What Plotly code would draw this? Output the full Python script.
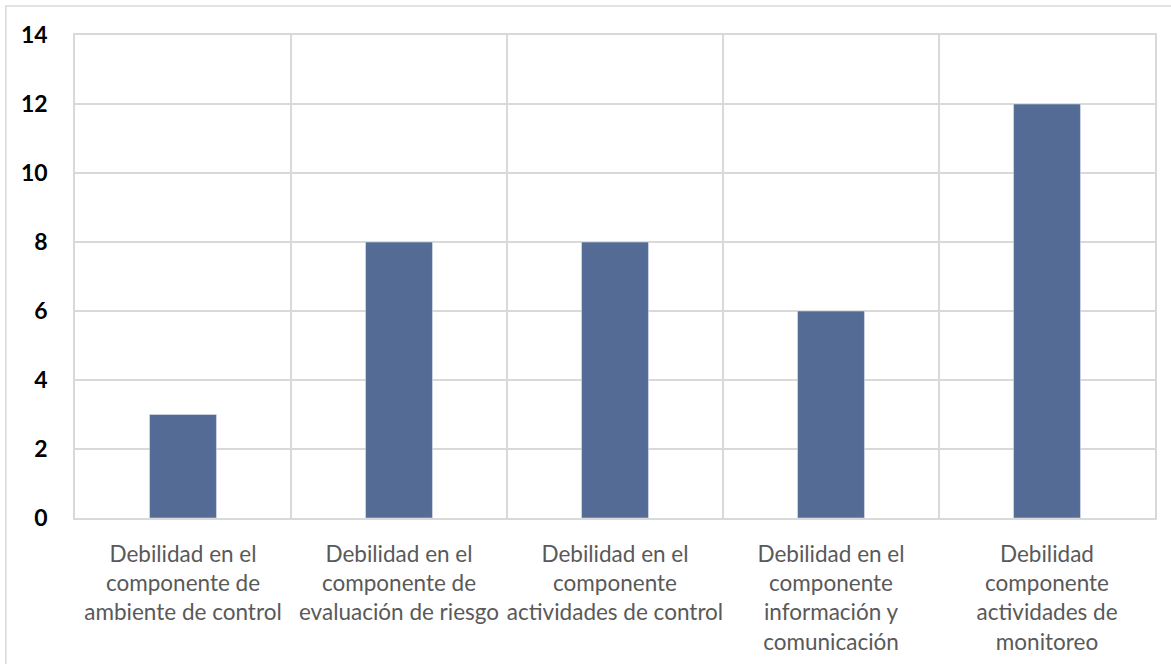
import plotly.graph_objects as go

categories = [
    "Debilidad en el<br>componente de<br>ambiente de control",
    "Debilidad en el<br>componente de<br>evaluación de riesgo",
    "Debilidad en el<br>componente<br>actividades de control",
    "Debilidad en el<br>componente<br>información y<br>comunicación",
    "Debilidad<br>componente<br>actividades de<br>monitoreo",
]
values = [3, 8, 8, 6, 12]
y_ticks = [0, 2, 4, 6, 8, 10, 12, 14]

positions = list(range(len(categories)))
boundaries = [p + 0.5 for p in positions[:-1]]

fig = go.Figure(go.Bar(x=positions, y=values, marker_color="#546C95", width=0.31))

grid = "#d9d9d9"
fig.update_layout(
    width=1171, height=664,
    margin=dict(l=75, r=16, t=35, b=146),
    paper_bgcolor="white", plot_bgcolor="white",
    showlegend=False,
    font=dict(family="Lato", color="#595959"),
)
fig.update_xaxes(
    range=[-0.5, len(categories) - 0.5],
    tickmode="array", tickvals=positions, ticktext=categories,
    showgrid=False, zeroline=False, automargin=False,
    showline=True, linecolor=grid, linewidth=1.5, mirror=True,
    tickfont=dict(family="Lato", size=22.5, color="#595959"),
    ticklabelstandoff=15,
    minor=dict(tickvals=boundaries, showgrid=True, gridcolor=grid, gridwidth=1.5, ticks=""),
)
fig.update_yaxes(
    range=[0, 14], tickmode="array", tickvals=y_ticks,
    showgrid=True, gridcolor=grid, gridwidth=1.5, zeroline=False, automargin=False,
    showline=True, linecolor=grid, linewidth=1.5, mirror=True,
    tickfont=dict(family="Lato", size=23, color="black", weight="bold"),
    ticklabelstandoff=21,
)
# outer chart border
fig.add_shape(type="rect", xref="paper", yref="paper",
              x0=-0.064, x1=1.05, y0=-0.4, y1=1.06,
              line=dict(color=grid, width=1.5), layer="below")

fig.write_html("out.html")
